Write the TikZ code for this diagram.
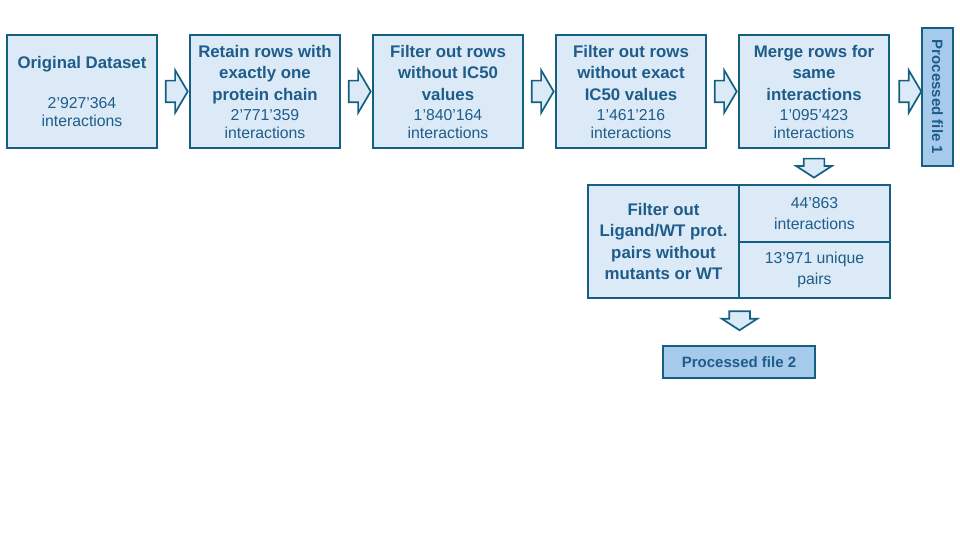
\documentclass[tikz,border=0pt]{standalone}
\usepackage{fontspec}
\setmainfont{Liberation Sans}
\usetikzlibrary{shapes.arrows,calc}
\definecolor{boxline}{RGB}{21,96,130}
\definecolor{boxfill}{RGB}{220,234,247}
\definecolor{filefill}{RGB}{166,202,236}
\definecolor{boxtext}{RGB}{30,92,138}
\newcommand{\hd}{\fontsize{16.8}{18}\selectfont\bfseries}
\newcommand{\fl}{\fontsize{15}{18}\selectfont\bfseries}
\tikzset{
	stepbox/.style={draw=boxline, fill=boxfill, line width=1.8pt, text=boxtext, align=center, inner sep=0pt, minimum width=150pt, minimum height=113pt, font=\fontsize{15.8}{18}\selectfont},
	filebox/.style={draw=boxline, fill=filefill, line width=1.8pt, text=boxtext, align=center, inner sep=0pt},
	rightarrow/.style={shape=single arrow, draw=boxline, fill=boxfill, line width=1.7pt, inner sep=0pt, inner ysep=10pt, minimum height=22pt, single arrow head extend=10.5pt, single arrow tip angle=119},
	downarrow/.style={rightarrow, inner ysep=9.5pt, minimum height=19pt, single arrow head extend=7.5pt, single arrow tip angle=114, rotate=-90}
}
\begin{document}
	\begin{tikzpicture}[x=1pt, y=-1pt]
		\useasboundingbox (0,0) rectangle (960,540);
		% main row
		\node (orig)[stepbox] at (82,91.5) {{\hd Original Dataset}\\[22pt]2’927’364\\interactions};
		\node (chain)[stepbox] at (265,91.5) {{\hd Retain rows with}\\[3.5pt]{\hd exactly one}\\[3.5pt]{\hd protein chain}\\[2pt]2’771’359\\interactions};
		\node (ic)[stepbox] at (448,91.5) {{\hd Filter out rows}\\[3.5pt]{\hd without IC50}\\[3.5pt]{\hd values}\\[2pt]1’840’164\\interactions};
		\node (exact)[stepbox] at (631,91.5) {{\hd Filter out rows}\\[3.5pt]{\hd without exact}\\[3.5pt]{\hd IC50 values}\\[2pt]1’461’216\\interactions};
		\node (merge)[stepbox] at (814,91.5) {{\hd Merge rows for}\\[3.5pt]{\hd same}\\[3.5pt]{\hd interactions}\\[2pt]1’095’423\\interactions};
		\node (file1)[filebox, rotate=-90, minimum width=138pt, minimum height=31pt] at (937.5,97) {\fl Processed file 1};

		% split box
		\node (pairs)[stepbox, minimum width=151pt] at (663.5,241.5) {{\hd Filter out}\\[3.5pt]{\hd Ligand/WT prot.}\\[3.5pt]{\hd pairs without}\\[3.5pt]{\hd mutants or WT}};
		\node (count)[stepbox, minimum width=151pt, minimum height=57pt] at (814.5,213.5) {44’863\\[3pt]interactions};
		\node (uniq)[stepbox, minimum width=151pt, minimum height=56pt] at (814.5,270) {13’971 unique\\[3pt]pairs};
		\node (file2)[filebox, minimum width=152pt, minimum height=32pt] at (739,362) {\fl Processed file 2};

		% block arrows
		\node [rightarrow] at ($(orig.east)!0.5!(chain.west)$) {};
		\node [rightarrow] at ($(chain.east)!0.5!(ic.west)$) {};
		\node [rightarrow] at ($(ic.east)!0.5!(exact.west)$) {};
		\node [rightarrow] at ($(exact.east)!0.5!(merge.west)$) {};
		\node [rightarrow] at ($(merge.east)!0.55!(merge.east -| file1.south)$) {};
		\node [downarrow] at ($(merge.south)!0.45!(count.north west -| merge.south)$) {};
		\node [downarrow] at ($(pairs.south east)!0.4!(file2.north)$) {};
	\end{tikzpicture}
\end{document}
